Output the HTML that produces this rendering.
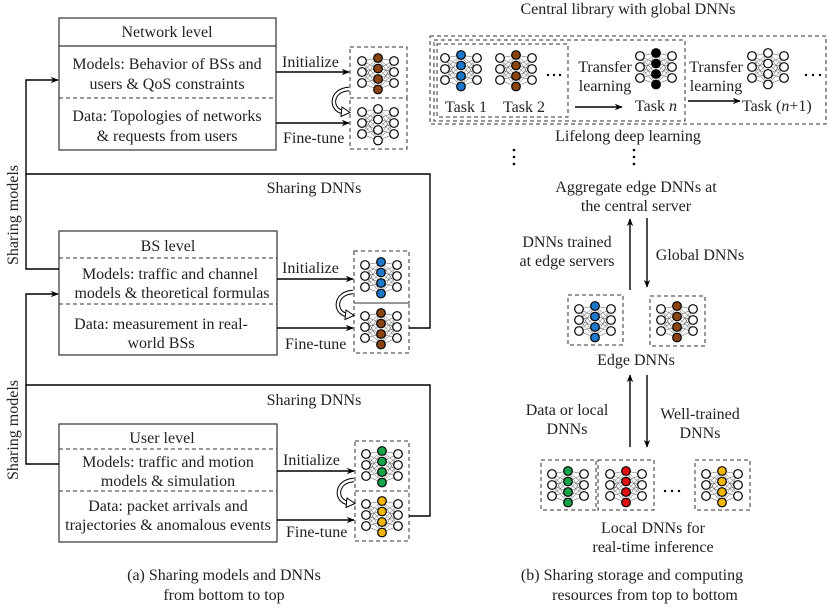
<!DOCTYPE html>
<html><head><meta charset="utf-8"><style>
html,body{margin:0;padding:0;background:#fff}
svg{display:block}
text{font-family:"Liberation Serif",serif;font-size:16px;fill:#222}
</style></head><body>
<svg width="830" height="608" viewBox="0 0 830 608" xmlns="http://www.w3.org/2000/svg">
<defs>
<marker id="ah" viewBox="0 0 10 10" refX="9" refY="5" markerWidth="8" markerHeight="8" orient="auto" markerUnits="userSpaceOnUse"><path d="M0,1 L10,5 L0,9 L3,5 Z" fill="#000"/></marker>
<g id="dnn">
<g stroke="#555" stroke-width="0.5">
<path d="M11,13L27,10M11,13L27,20.5M11,13L27,31M11,13L27,41.5M11,24L27,10M11,24L27,20.5M11,24L27,31M11,24L27,41.5M11,35L27,10M11,35L27,20.5M11,35L27,31M11,35L27,41.5"/>
<path d="M43,13L27,10M43,13L27,20.5M43,13L27,31M43,13L27,41.5M43,24L27,10M43,24L27,20.5M43,24L27,31M43,24L27,41.5M43,35L27,10M43,35L27,20.5M43,35L27,31M43,35L27,41.5"/>
</g>
<g stroke="#000" stroke-width="1.2" fill="#fff">
<circle cx="11" cy="13" r="4.3"/><circle cx="11" cy="24" r="4.3"/><circle cx="11" cy="35" r="4.3"/>
<circle cx="43" cy="13" r="4.3"/><circle cx="43" cy="24" r="4.3"/><circle cx="43" cy="35" r="4.3"/>
<g fill="currentColor"><circle cx="27" cy="10" r="4.3"/><circle cx="27" cy="20.5" r="4.3"/><circle cx="27" cy="31" r="4.3"/><circle cx="27" cy="41.5" r="4.3"/></g>
</g>
</g>
<g id="curv">
<path d="M-1,-12 C-20,-11 -20,9 -7,11" fill="none" stroke="#000" stroke-width="4.5"/>
<path d="M-1,-12 C-20,-11 -20,9 -7,11" fill="none" stroke="#fff" stroke-width="2.5"/>
<path d="M-8,6 L0,11.5 L-9,15.5 Z" fill="#fff" stroke="#000" stroke-width="1"/>
</g>
</defs>

<g fill="none" stroke="#333" stroke-width="1.2">
<rect x="59" y="18" width="217" height="132"/>
<line x1="59" y1="46" x2="276" y2="46"/>
<rect x="59" y="231" width="218" height="124"/>
<rect x="59" y="424" width="218" height="118"/>
</g>
<g fill="none" stroke="#333" stroke-width="1" stroke-dasharray="4,3">
<line x1="59" y1="98" x2="276" y2="98"/>
<line x1="59" y1="304" x2="277" y2="304"/>
<line x1="59" y1="449" x2="277" y2="449"/>
<line x1="59" y1="491" x2="277" y2="491"/>
<rect x="350" y="47" width="57" height="51"/><rect x="350" y="98" width="57" height="51"/>
<rect x="354" y="251" width="55" height="52"/><rect x="354" y="303" width="55" height="50"/>
<rect x="355" y="441" width="54" height="50"/><rect x="355" y="491" width="54" height="50"/>
</g>
<line x1="59" y1="258" x2="277" y2="258" stroke="#333" stroke-width="1" stroke-dasharray="4,3"/>

<use href="#dnn" x="351" y="48" style="color:#8B4513"/>
<use href="#dnn" x="351" y="99" style="color:#fff"/>
<use href="#dnn" x="354" y="252" style="color:#1f78c8"/>
<use href="#dnn" x="354" y="303" style="color:#8B4513"/>
<use href="#dnn" x="355" y="441" style="color:#17a34a"/>
<use href="#dnn" x="355" y="491" style="color:#f2b705"/>

<use href="#curv" x="350" y="101"/>
<use href="#curv" x="354" y="304"/>
<use href="#curv" x="355" y="492"/>

<g stroke="#000" stroke-width="1.4" fill="none">
<line x1="276" y1="72" x2="349" y2="72" marker-end="url(#ah)"/>
<line x1="276" y1="123" x2="349" y2="123" marker-end="url(#ah)"/>
<line x1="277" y1="279" x2="353" y2="279" marker-end="url(#ah)"/>
<line x1="277" y1="328" x2="353" y2="328" marker-end="url(#ah)"/>
<line x1="277" y1="471" x2="354" y2="471" marker-end="url(#ah)"/>
<line x1="277" y1="520" x2="354" y2="520" marker-end="url(#ah)"/>
<polyline points="59,269 26,269 26,80 58,80" marker-end="url(#ah)"/>
<polyline points="26,174 430,174 430,328 409,328"/>
<polyline points="59,464 26,464 26,294 58,294" marker-end="url(#ah)"/>
<polyline points="26,385 430,385 430,516 409,516"/>
</g>

<g text-anchor="middle">
<text x="167" y="37">Network level</text>
<text x="167" y="69">Models: Behavior of BSs and</text>
<text x="167" y="89">users &amp; QoS constraints</text>
<text x="167" y="121">Data: Topologies of networks</text>
<text x="167" y="141">&amp; requests from users</text>
<text x="168" y="251">BS level</text>
<text x="170" y="279">Models: traffic and channel</text>
<text x="172" y="298">models &amp; theoretical formulas</text>
<text x="161" y="329">Data: measurement in real-</text>
<text x="161" y="348">world BSs</text>
<text x="162" y="443">User level</text>
<text x="168" y="467">Models: traffic and motion</text>
<text x="168" y="486">models &amp; simulation</text>
<text x="168" y="511">Data: packet arrivals and</text>
<text x="168" y="530">trajectories &amp; anomalous events</text>
<text x="314" y="193">Sharing DNNs</text>
<text x="314" y="405">Sharing DNNs</text>
<text x="224" y="580">(a) Sharing models and DNNs</text>
<text x="224" y="600">from bottom to top</text>
</g>
<text x="282" y="67">Initialize</text>
<text x="283" y="143">Fine-tune</text>
<text x="282" y="273">Initialize</text>
<text x="285" y="349">Fine-tune</text>
<text x="283" y="465">Initialize</text>
<text x="286" y="537">Fine-tune</text>
<text transform="translate(18,215) rotate(-90)" text-anchor="middle">Sharing models</text>
<text transform="translate(18,430) rotate(-90)" text-anchor="middle">Sharing models</text>

<g fill="none" stroke="#333" stroke-width="1" stroke-dasharray="4,3">
<rect x="430" y="36" width="396" height="88"/>
<rect x="434" y="40" width="251" height="81"/>
<rect x="437" y="44" width="131" height="73"/>
<rect x="568" y="295" width="55" height="50"/><rect x="650" y="296" width="55" height="50"/>
<rect x="541" y="460" width="55" height="50"/><rect x="598" y="460" width="56" height="50"/><rect x="695" y="460" width="55" height="50"/>
</g>
<use href="#dnn" x="434" y="45" style="color:#1f78c8"/>
<use href="#dnn" x="489" y="45" style="color:#8B4513"/>
<use href="#dnn" x="629" y="43" style="color:#000"/>
<use href="#dnn" x="741" y="43" style="color:#fff"/>
<use href="#dnn" x="568" y="296" style="color:#1f78c8"/>
<use href="#dnn" x="650" y="296" style="color:#8B4513"/>
<use href="#dnn" x="541" y="461" style="color:#17a34a"/>
<use href="#dnn" x="599" y="461" style="color:#e01010"/>
<use href="#dnn" x="695" y="461" style="color:#f2b705"/>

<g stroke="#000" stroke-width="1.4" fill="none">
<line x1="575" y1="107" x2="622" y2="107" marker-end="url(#ah)"/>
<line x1="688" y1="101" x2="740" y2="101" marker-end="url(#ah)"/>
<line x1="630" y1="290" x2="630" y2="219" marker-end="url(#ah)"/>
<line x1="647" y1="218" x2="647" y2="287" marker-end="url(#ah)"/>
<line x1="630" y1="447" x2="630" y2="375" marker-end="url(#ah)"/>
<line x1="647" y1="375" x2="647" y2="447" marker-end="url(#ah)"/>
</g>
<g fill="#000">
<circle cx="514" cy="150" r="1.3"/><circle cx="514" cy="157" r="1.3"/><circle cx="514" cy="164" r="1.3"/>
<circle cx="634" cy="150" r="1.3"/><circle cx="634" cy="157" r="1.3"/><circle cx="634" cy="164" r="1.3"/>
<circle cx="548" cy="75" r="1.2"/><circle cx="554" cy="75" r="1.2"/><circle cx="560" cy="75" r="1.2"/>
<circle cx="806" cy="75" r="1.2"/><circle cx="813" cy="75" r="1.2"/><circle cx="820" cy="75" r="1.2"/>
<circle cx="665" cy="491" r="1.2"/><circle cx="672" cy="491" r="1.2"/><circle cx="679" cy="491" r="1.2"/>
</g>
<g text-anchor="middle">
<text x="628" y="14">Central library with global DNNs</text>
<text x="466" y="112">Task 1</text>
<text x="524" y="112">Task 2</text>
<text x="605" y="72">Transfer</text>
<text x="605" y="91">learning</text>
<text x="656" y="111">Task <tspan font-style="italic">n</tspan></text>
<text x="716" y="72">Transfer</text>
<text x="716" y="91">learning</text>
<text x="628" y="141">Lifelong deep learning</text>
<text x="636" y="192">Aggregate edge DNNs at</text>
<text x="636" y="211">the central server</text>
<text x="567" y="247">DNNs trained</text>
<text x="567" y="266">at edge servers</text>
<text x="700" y="260">Global DNNs</text>
<text x="636" y="365">Edge DNNs</text>
<text x="567" y="415">Data or local</text>
<text x="567" y="434">DNNs</text>
<text x="700" y="419">Well-trained</text>
<text x="700" y="438">DNNs</text>
<text x="653" y="533">Local DNNs for</text>
<text x="653" y="552">real-time inference</text>
<text x="632" y="580">(b) Sharing storage and computing</text>
<text x="645" y="600">resources from top to bottom</text>
</g>
<text x="742" y="111">Task (<tspan font-style="italic">n</tspan>+1)</text>
</svg>
</body></html>
